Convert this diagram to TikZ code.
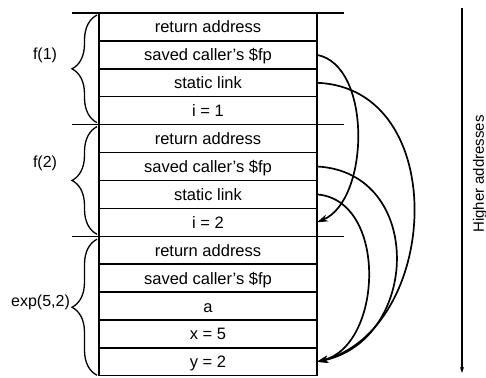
\documentclass[tikz,border=0pt]{standalone}
\usepackage{fontspec}
\setmainfont{Liberation Sans}
\usetikzlibrary{arrows.meta,positioning,decorations.pathreplacing}

\begin{document}
\begin{tikzpicture}[
  x=1pt, y=-1pt,
  node distance=0pt,
  every node/.style={font=\fontsize{16.5}{19}\selectfont},
  cell/.style={draw, line width=1.4pt, outer sep=0pt, inner sep=0pt,
    minimum width=218pt, minimum height=27.9pt, text height=12pt, text depth=0pt},
  lbl/.style={font=\fontsize{16}{19}\selectfont},
  sep/.style={line width=1.4pt},
  brace/.style={decorate, decoration={brace, amplitude=25pt}, line width=1.3pt},
  link/.style={-{Stealth[length=11pt,width=7pt]}, line width=1.7pt},
  addr/.style={-{Stealth[length=6pt,width=4pt]}, line width=1.3pt}
]
\useasboundingbox (0,0) rectangle (486,377);

% frame of f(1)
\node[cell] (ra1) at (208,27) {return address};
\node[cell, below=of ra1] (fp1) {saved caller's \$fp};
\node[cell, below=of fp1] (sl1) {static link};
\node[cell, below=of sl1] (i1) {i = 1};

% frame of f(2)
\node[cell, below=of i1] (ra2) {return address};
\node[cell, below=of ra2] (fp2) {saved caller's \$fp};
\node[cell, below=of fp2] (sl2) {static link};
\node[cell, below=of sl2] (i2) {i = 2};

% frame of exp(5,2)
\node[cell, below=of i2] (ra3) {return address};
\node[cell, below=of ra3] (fp3) {saved caller's \$fp};
\node[cell, below=of fp3] (a3) {a};
\node[cell, below=of a3] (x3) {x = 5};
\node[cell, below=of x3] (y3) {y = 2};

\draw[sep] ([xshift=-27pt]ra1.north west) -- ([xshift=27pt]ra1.north east);
\draw[sep] ([xshift=-27pt]ra2.north west) -- ([xshift=27pt]ra2.north east);
\draw[sep] ([xshift=-27pt]ra3.north west) -- ([xshift=27pt]ra3.north east);

\draw[brace] ([xshift=-2pt,yshift=2pt]i1.south west) -- ([xshift=-2pt,yshift=-2pt]ra1.north west);
\draw[brace] ([xshift=-2pt,yshift=2pt]i2.south west) -- ([xshift=-2pt,yshift=-2pt]ra2.north west);
\draw[brace] ([xshift=-2pt,yshift=0.5pt]y3.south west) -- ([xshift=-2pt,yshift=-3pt]ra3.north west);

\node[lbl] (lf1) at (45,55) {f(1)};
\node[lbl] (lf2) at (45,163) {f(2)};
\node[lbl] (lexp) at (40.5,302) {exp(5,2)};

\draw[link] (fp1.east) .. controls (372,65) and (370,200) .. (i2.east);
\draw[link] (sl1.east) .. controls (452,88) and (440,330) .. (y3.east);
\draw[link] (fp2.east) .. controls (425,172) and (420,340) .. (y3.east);
\draw[link] (sl2.east) .. controls (388,200) and (383,345) .. (y3.east);

\coordinate (hitop) at (462,8);
\coordinate (hibot) at (462,373);
\draw[addr] (hitop) -- (hibot);
\node[rotate=90, font=\fontsize{15}{18}\selectfont] (hi) at (480,174) {Higher addresses};
\end{tikzpicture}
\end{document}
